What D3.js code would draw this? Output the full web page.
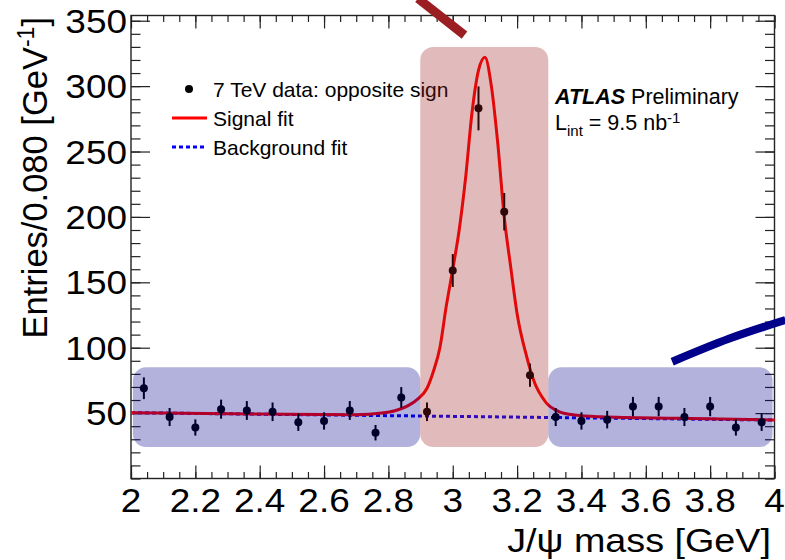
<!DOCTYPE html>
<html>
<head>
<meta charset="utf-8">
<script src="https://cdn.jsdelivr.net/npm/d3@7"></script>
<style>
  body { margin: 0; background: #fff; }
  text { font-family: "Liberation Sans", Arial, Helvetica, sans-serif; fill: #000; }
</style>
</head>
<body>
<div id="chart"></div>
<script>
// bin centres (0.080 GeV bins) and entries
var binCenters = [2.04, 2.12, 2.20, 2.28, 2.36, 2.44, 2.52, 2.60, 2.68, 2.76, 2.84, 2.92,
                  3.00, 3.08, 3.16, 3.24,
                  3.32, 3.40, 3.48, 3.56, 3.64, 3.72, 3.80, 3.88, 3.96];
var entries = [69, 47, 39, 53, 52, 51, 43, 44, 52, 35, 62, 51,
               159, 283, 204, 79,
               47, 44, 45, 55, 55, 47, 55, 39, 43];
var errors = [8.3, 6.9, 6.2, 7.3, 7.2, 7.1, 6.6, 6.6, 7.2, 5.9, 7.9, 7.1,
              12.6, 16.8, 14.3, 8.9,
              6.9, 6.6, 6.7, 7.4, 7.4, 6.9, 7.4, 6.2, 6.6];

// signal fit curve
var signalMass = [2.00, 2.40, 2.70, 2.78, 2.82, 2.86, 2.89, 2.92, 2.94, 2.96, 2.98, 3.00, 3.02, 3.04,
                  3.06, 3.08, 3.10, 3.12, 3.14, 3.16, 3.18, 3.20, 3.23, 3.25, 3.29, 3.33, 3.38, 3.46, 3.70, 4.00];
var signalFit = [50.3, 49.3, 48.7, 50.0, 51.8, 55.5, 60.5, 69, 82, 100, 132, 160, 190, 230,
                 280, 312, 322, 300, 256, 200, 162, 126, 93, 76, 58, 51.2, 48.5, 47.2, 46.0, 44.7];
// background fit (straight line)
var bgMass = [2.0, 4.0];
var bgFit = [50.3, 44.7];

var xTicks = [2, 2.2, 2.4, 2.6, 2.8, 3, 3.2, 3.4, 3.6, 3.8, 4];
var xTickLabels = ["2", "2.2", "2.4", "2.6", "2.8", "3", "3.2", "3.4", "3.6", "3.8", "4"];
var yTicks = [50, 100, 150, 200, 250, 300, 350];
var yTickLabels = ["50", "100", "150", "200", "250", "300", "350"];

// highlighted mass windows (sidebands and signal region)
var sidebands = [[2.006, 2.899], [3.297, 3.994]];
var sidebandRange = [24, 85];
var signalWindow = [2.899, 3.297];
var signalRange = [24, 330];

var width = 785, height = 560;
var svg = d3.select("#chart").append("svg")
    .attr("width", width)
    .attr("height", height);

var x = d3.scaleLinear().domain([2, 4]).range([131, 774.5]);
var y = d3.scaleLinear().domain([0, 354]).range([478.5, 15.5]);

var xMinor = d3.range(2, 4.001, 0.05);
var yMinor = d3.range(0, 351, 10);

// ticks on all four sides
function ticks(axis, pos) {
    var g = svg.append("g").attr("transform", pos).call(axis);
    g.select(".domain").remove();
    g.selectAll(".tick line").attr("stroke", "#222").attr("stroke-width", 1.2);
    return g;
}
ticks(d3.axisTop(x).tickValues(xMinor).tickSize(6.5).tickFormat(""), "translate(0,478.5)");
ticks(d3.axisTop(x).tickValues(xTicks).tickSize(13).tickFormat(""), "translate(0,478.5)");
ticks(d3.axisBottom(x).tickValues(xMinor).tickSize(6.5).tickFormat(""), "translate(0,15.5)");
ticks(d3.axisBottom(x).tickValues(xTicks).tickSize(13).tickFormat(""), "translate(0,15.5)");
ticks(d3.axisRight(y).tickValues(yMinor).tickSize(9.5).tickFormat(""), "translate(131,0)");
ticks(d3.axisRight(y).tickValues(yTicks).tickSize(19).tickFormat(""), "translate(131,0)");
ticks(d3.axisLeft(y).tickValues(yMinor).tickSize(9.5).tickFormat(""), "translate(774.5,0)");
ticks(d3.axisLeft(y).tickValues(yTicks).tickSize(19).tickFormat(""), "translate(774.5,0)");

svg.append("rect")
    .attr("x", 131).attr("y", 15.5)
    .attr("width", 774.5 - 131).attr("height", 478.5 - 15.5)
    .attr("fill", "none").attr("stroke", "#222").attr("stroke-width", 1.4);

// tick labels (the original font is a bit wide, hence the x stretch)
svg.selectAll(".xlab").data(xTicks).enter().append("text")
    .attr("transform", d => "translate(" + x(d) + ",512) scale(1.12,1)")
    .attr("text-anchor", "middle")
    .attr("font-size", "33px")
    .text((d, i) => xTickLabels[i]);

svg.selectAll(".ylab").data(yTicks).enter().append("text")
    .attr("transform", d => "translate(127," + (y(d) + 12) + ") scale(1.12,1)")
    .attr("text-anchor", "end")
    .attr("font-size", "33px")
    .text((d, i) => yTickLabels[i]);

// axis titles
svg.append("text")
    .attr("transform", "translate(771,552) scale(1.11,1)")
    .attr("text-anchor", "end")
    .attr("font-size", "34px")
    .text("J/\u03C8 mass [GeV]");

var yt = svg.append("text")
    .attr("transform", "translate(47,17) rotate(-90)")
    .attr("text-anchor", "end")
    .attr("font-size", "34.5px");
yt.append("tspan").text("Entries/0.080 [GeV");
yt.append("tspan").attr("font-size", "23px").attr("dy", -13).text("-1");
yt.append("tspan").attr("dy", 13).text("]");

// fits
var line = d3.line().x(d => x(d[0])).y(d => y(d[1]));

svg.append("path")
    .datum(d3.zip(bgMass, bgFit))
    .attr("d", line)
    .attr("fill", "none")
    .attr("stroke", "#0000ff")
    .attr("stroke-width", 3)
    .attr("stroke-dasharray", "4,3");

svg.append("path")
    .datum(d3.zip(signalMass, signalFit))
    .attr("d", line.curve(d3.curveMonotoneX))
    .attr("fill", "none")
    .attr("stroke", "#ff0000")
    .attr("stroke-width", 3);

// data points with error bars
var pts = svg.append("g");
pts.selectAll("line").data(binCenters).enter().append("line")
    .attr("x1", d => x(d)).attr("x2", d => x(d))
    .attr("y1", (d, i) => y(entries[i] - errors[i]))
    .attr("y2", (d, i) => y(entries[i] + errors[i]))
    .attr("stroke", "#000").attr("stroke-width", 2);
pts.selectAll("circle").data(binCenters).enter().append("circle")
    .attr("cx", d => x(d))
    .attr("cy", (d, i) => y(entries[i]))
    .attr("r", 4)
    .attr("fill", "#000");

// legend
svg.append("circle").attr("cx", 189).attr("cy", 89).attr("r", 4).attr("fill", "#000");
svg.append("line").attr("x1", 172).attr("x2", 207).attr("y1", 118).attr("y2", 118)
    .attr("stroke", "#ff0000").attr("stroke-width", 3);
svg.append("line").attr("x1", 172).attr("x2", 207).attr("y1", 147).attr("y2", 147)
    .attr("stroke", "#0000ff").attr("stroke-width", 3).attr("stroke-dasharray", "4,3");
var legendText = ["7 TeV data: opposite sign", "Signal fit", "Background fit"];
svg.selectAll(".leg").data(legendText).enter().append("text")
    .attr("x", 213).attr("y", (d, i) => 96.5 + i * 29)
    .attr("font-size", "21px")
    .text(d => d);

// ATLAS label
var at = svg.append("text").attr("x", 555).attr("y", 104).attr("font-size", "21.5px");
at.append("tspan").attr("font-weight", "bold").attr("font-style", "italic").text("ATLAS");
at.append("tspan").text(" Preliminary");
var lu = svg.append("text").attr("x", 555).attr("y", 130).attr("font-size", "21.5px");
lu.append("tspan").text("L");
lu.append("tspan").attr("font-size", "15px").attr("dy", 6).text("int");
lu.append("tspan").attr("dy", -6).text(" = 9.5 nb");
lu.append("tspan").attr("font-size", "15px").attr("dy", -7).text("-1");

// highlighted windows (drawn on top, translucent)
sidebands.forEach(function(s) {
    svg.append("rect")
        .attr("x", x(s[0])).attr("y", y(sidebandRange[1]))
        .attr("width", x(s[1]) - x(s[0]))
        .attr("height", y(sidebandRange[0]) - y(sidebandRange[1]))
        .attr("rx", 13)
        .attr("fill", "#00008b").attr("fill-opacity", 0.3);
});
svg.append("rect")
    .attr("x", x(signalWindow[0])).attr("y", y(signalRange[1]))
    .attr("width", x(signalWindow[1]) - x(signalWindow[0]))
    .attr("height", y(signalRange[0]) - y(signalRange[1]))
    .attr("rx", 13)
    .attr("fill", "#9b1f22").attr("fill-opacity", 0.3);

// pointer strokes
var redStroke = [[2.892, 367], [3.0365, 339]];
var blueStroke = [[3.682, 89.3], [3.86, 107], [4.034, 121.2]];
svg.append("path")
    .datum(redStroke)
    .attr("d", d3.line().x(d => x(d[0])).y(d => y(d[1])))
    .attr("stroke", "#9b1f22").attr("stroke-width", 9).attr("fill", "none");
svg.append("path")
    .datum(blueStroke)
    .attr("d", d3.line().x(d => x(d[0])).y(d => y(d[1])).curve(d3.curveNatural))
    .attr("stroke", "#00008b").attr("stroke-width", 8).attr("fill", "none");
</script>
</body>
</html>
